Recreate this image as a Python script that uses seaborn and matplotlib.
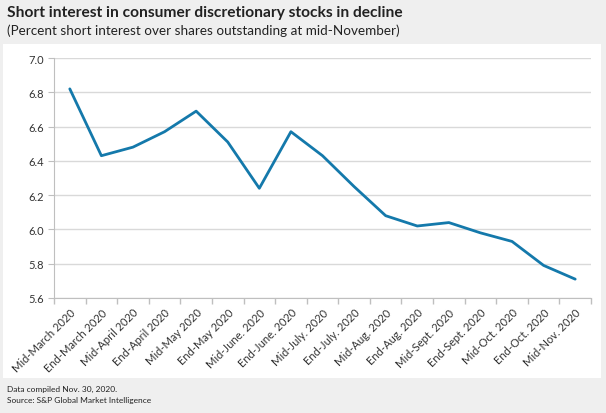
import numpy as np
import pandas as pd
import seaborn as sb
import matplotlib.pyplot as plt
from matplotlib.patches import Rectangle

periods = ["Mid-March 2020", "End-March 2020", "Mid-April 2020", "End-April 2020",
           "Mid-May 2020", "End-May 2020", "Mid-June. 2020", "End-June. 2020",
           "Mid-July. 2020", "End-July. 2020", "Mid-Aug. 2020", "End-Aug. 2020",
           "Mid-Sept. 2020", "End-Sept. 2020", "Mid-Oct. 2020", "End-Oct. 2020",
           "Mid-Nov. 2020"]
short_interest = [6.82, 6.43, 6.48, 6.57, 6.69, 6.51, 6.24, 6.57, 6.43,
                  6.25, 6.08, 6.02, 6.04, 5.98, 5.93, 5.79, 5.71]
y_ticks = [5.6, 5.8, 6.0, 6.2, 6.4, 6.6, 6.8, 7.0]

sb.set_style("white")
plt.rcParams['font.family'] = ['Lato', 'DejaVu Sans']

fig = plt.figure(figsize=(6.06, 4.14), dpi=100)
fig.patch.set_facecolor("#efefef")
fig.add_artist(Rectangle((3/606, 1-379/414), 598/606, 334/414,
                         transform=fig.transFigure, facecolor="white",
                         edgecolor="none", zorder=0))

ax = fig.add_axes([54/606, 1-299/414, 537/606, 240/414])
ax.set_facecolor("none")

df = pd.DataFrame({"period": periods, "value": short_interest})
df["pos"] = np.arange(len(periods))
sb.lineplot(data=df, x="pos", y="value", color="#1479ab", linewidth=2, ax=ax)

ax.set_xlim(-0.5, len(periods) - 0.5)
ax.set_ylim(5.6, 7.0)
ax.set_yticks(y_ticks)
ax.set_yticklabels([f"{v:.1f}" for v in y_ticks], fontsize=8, color="#333333")
ax.set_xticks(df["pos"])
ax.set_xticklabels(periods, rotation=45, ha="right", rotation_mode="anchor",
                   fontsize=8, color="#333333")
ax.set_xticks(np.arange(-0.5, len(periods)), minor=True)
ax.tick_params(axis="x", which="major", length=0, pad=6)
ax.tick_params(axis="x", which="minor", length=4, color="#bfbfbf", width=1, bottom=True)
ax.tick_params(axis="y", length=4, color="#bfbfbf", left=True, pad=3)
ax.set_xlabel("")
ax.set_ylabel("")

ax.grid(axis="y", color="#d9d9d9", linewidth=1)
ax.set_axisbelow(True)
for s in ["top", "right"]:
    ax.spines[s].set_visible(False)
ax.spines["left"].set_color("#bfbfbf")
ax.spines["bottom"].set_color("#bfbfbf")

fig.text(7/606, 1-13/414, "Short interest in consumer discretionary stocks in decline",
         fontsize=11.2, fontweight="bold", color="#222222", va="center")
fig.text(7/606, 1-31/414, "(Percent short interest over shares outstanding at mid-November)",
         fontsize=9.7, color="#222222", va="center")
fig.text(7/606, 1-389/414, "Data compiled Nov. 30, 2020.", fontsize=6,
         color="#222222", va="center")
fig.text(7/606, 1-401/414, "Source: S&P Global Market Intelligence", fontsize=6,
         color="#222222", va="center")

fig.savefig("out.png", dpi=100, facecolor=fig.get_facecolor())
